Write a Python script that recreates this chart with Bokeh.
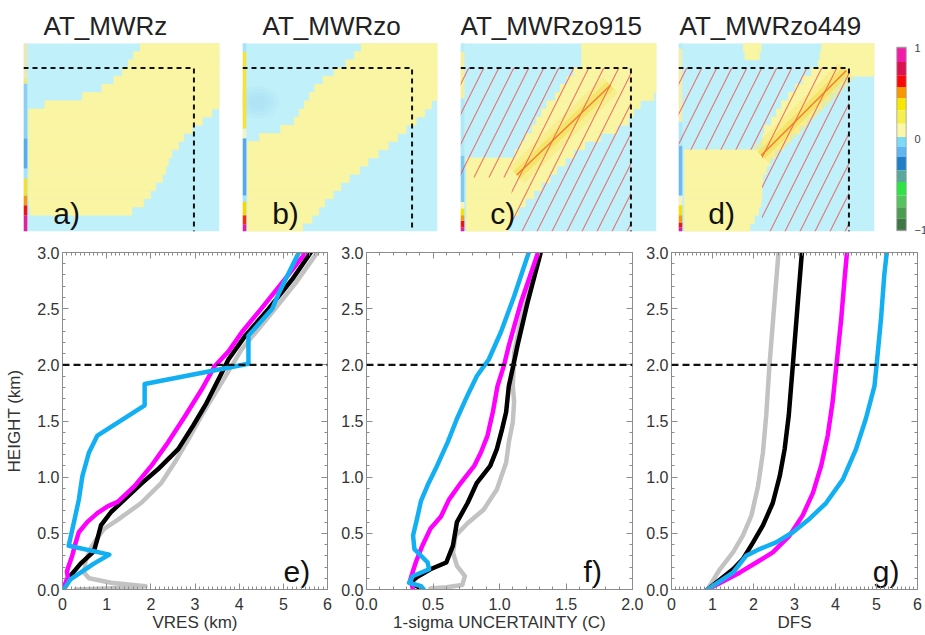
from bokeh.plotting import figure
from bokeh.layouts import row, column
from bokeh.models import (Range1d, LinearAxis, SingleIntervalTicker, FixedTicker,
                          NumeralTickFormatter, Span)
from bokeh.core.properties import value
from bokeh.embed import file_html
from bokeh.resources import INLINE

FONT = "Liberation Sans"
FRAME_GRAY = "#8c8c8c"
TEXT_DARK = "#333333"
KCYAN = "#c0f0fa"
KYELLOW = "#faf5a2"

# ---------------- averaging kernels (a-d): yellow spans per 0.1 km row ----------------
KERNEL_TOP = 2.3          # extent of the kernel matrix (km)
VIEW_TOP = 2.826          # frame also holds the panel title above the matrix
ROW_H = 0.1
DASH_KM = 2.0

a_rows = [0.25, 0.35, 0.45, 0.55, 0.65, 0.75, 0.85, 0.95, 1.05, 1.15, 1.25, 1.35, 1.45,
          1.55, 1.65, 1.75, 1.85, 1.95, 2.05, 2.15, 2.25]
a_left = [0.08, 0.07, 0.06, 0.06, 0.06, 0.06, 0.06, 0.06, 0.06, 0.06, 0.06, 0.06, 0.06,
          0.25, 0.69, 0.92, 1.06, 1.16, 1.23, 1.29, 1.37]
a_right = [1.27, 1.41, 1.49, 1.55, 1.63, 1.67, 1.70, 1.74, 1.82, 1.88, 1.98, 2.10, 2.21,
           2.30, 2.30, 2.30, 2.30, 2.30, 2.30, 2.30, 2.30]

b_rows = [0.05, 0.15, 0.25, 0.35, 0.45, 0.55, 0.65, 0.75, 0.85, 0.95, 1.05, 1.15, 1.25,
          1.35, 1.45, 1.55, 1.65, 1.75, 1.85, 1.95, 2.05, 2.15, 2.25]
b_left = [0.06, 0.06, 0.06, 0.06, 0.06, 0.06, 0.06, 0.06, 0.06, 0.06, 0.06, 0.20, 0.45,
          0.61, 0.67, 0.73, 0.79, 0.85, 0.95, 1.08, 1.22, 1.32, 1.40]
b_right = [0.71, 0.82, 0.90, 0.97, 1.07, 1.16, 1.26, 1.38, 1.48, 1.60, 1.72, 1.83, 1.93,
           2.05, 2.15, 2.23, 2.30, 2.30, 2.30, 2.30, 2.30, 2.30, 2.30]

c_rows = [0.05, 0.15, 0.25, 0.35, 0.45, 0.55, 0.65, 0.75, 0.85, 0.95, 1.05, 1.15, 1.25,
          1.35, 1.45, 1.55, 1.65, 1.75, 1.85, 1.95, 2.05, 2.15, 2.25]
c_left = [0.07, 0.07, 0.07, 0.07, 0.07, 0.07, 0.07, 0.07, 0.07, 0.64, 0.70, 0.76, 0.84,
          0.89, 0.95, 1.01, 1.11, 1.17, 1.25, 1.33, 1.42, 1.42, 1.42]
c_right = [0.56, 0.60, 0.68, 0.76, 0.86, 0.95, 1.05, 1.13, 1.23, 1.33, 1.46, 1.64, 1.84,
           1.97, 2.03, 2.11, 2.27, 2.30, 2.30, 2.30, 2.30, 2.30, 2.30]

d_rows = [0.05, 0.15, 0.25, 0.35, 0.45, 0.55, 0.65, 0.75, 0.85, 0.95, 1.05, 1.15, 1.25,
          1.35, 1.45, 1.55, 1.65, 1.75, 1.85, 1.95, 2.05, 2.15, 2.15, 2.25, 2.25]
d_left = [0.07, 0.07, 0.07, 0.07, 0.07, 0.07, 0.07, 0.07, 0.07, 0.07, 0.99, 0.99, 1.01,
          1.09, 1.15, 1.21, 1.29, 1.37, 1.46, 1.56, 1.64, 0.78, 1.66, 0.76, 1.68]
d_right = [0.84, 0.89, 0.94, 0.97, 0.98, 0.98, 0.99, 1.03, 1.07, 1.13, 1.23, 1.31, 1.42,
           1.50, 1.58, 1.68, 1.76, 1.83, 1.91, 2.30, 2.30, 0.95, 2.30, 0.97, 2.30]

# first-column strip of each kernel (edges in km, bottom to top)
a_strip_edges = [0.0, 0.20, 0.32, 0.44, 0.65, 0.77, 1.14, 1.81, 1.87, 2.3]
a_strip_colors = ["#e0209c", "#ec1414", "#f59a10", "#f5e030", "#a8e2f6",
                  "#58acee", "#8ccff2", "#f3e870", "#ece8b4"]
b_strip_edges = [0.0, 0.09, 0.20, 0.36, 0.44, 1.14, 1.26, 2.20, 2.3]
b_strip_colors = ["#e0209c", "#ee3010", "#f6d800", "#a8e2f6", "#5aa6ee",
                  "#f4f2c8", "#f5e23a", "#a8e2f6"]
c_strip_edges = [0.0, 0.05, 0.13, 0.20, 0.28, 0.36, 0.93, 1.63, 2.20, 2.3]
c_strip_colors = ["#e0209c", "#ec1414", "#f59a10", "#f5e000", "#f6f2c0",
                  "#80caf2", "#b0e8f8", "#f6efa0", "#b8ecf8"]
d_strip_edges = [0.0, 0.05, 0.11, 0.20, 0.32, 0.44, 1.05, 1.34, 2.24, 2.3]
d_strip_colors = ["#e0209c", "#ec1414", "#f59a10", "#f5e000", "#f6f2c0",
                  "#6cbaf0", "#b0e8f8", "#f2eeb0", "#b8ecf8"]

# diagonal ridge of the kernels with extra observations
c_ridge_u = [0.66, 1.76]
c_ridge_v = [0.69, 1.79]
d_ridge_u = [0.97, 1.97]
d_ridge_v = [0.93, 1.97]

# hatched (low-information) regions
c_hatch_u = [0.60, 2.0, 2.0, 0.0, 0.0, 0.60]
c_hatch_v = [0.0, 0.0, 2.0, 2.0, 0.66, 0.66]
d_hatch_u = [0.98, 2.0, 2.0, 0.0, 0.0, 0.98]
d_hatch_v = [0.0, 0.0, 2.0, 2.0, 1.0, 1.0]

# colour bar levels (top to bottom = 1 to -1)
cb_edges = [1.0, 0.842, 0.697, 0.569, 0.442, 0.314, 0.168, 0.021, -0.088, -0.198,
            -0.343, -0.471, -0.617, -0.745, -0.872, -1.0]
cb_colors = ["#f21ba8", "#dc0f50", "#f80808", "#f89800", "#f8e800", "#f6ef50", "#fbf7a8",
             "#7cdaf8", "#5fb6f2", "#1f7ec8", "#5aa89c", "#2ee444", "#56c45c", "#4c9c50",
             "#3e7646"]
CB_VIEW = (-1.011, 1.514)   # bar sits in the lower part of a frame as tall as the kernels

# ---------------- profiles (e-g) ----------------
vres_gray_x = [5.77, 5.28, 4.67, 4.06, 3.60, 3.15, 2.84, 2.54, 2.24, 1.78, 1.25, 0.94, 0.79,
               0.64, 0.52, 0.49, 0.60, 1.10, 1.88, 1.00, 0.30]
vres_gray_z = [3.00, 2.73, 2.43, 2.14, 1.84, 1.55, 1.33, 1.13, 0.95, 0.77, 0.62, 0.54, 0.46,
               0.37, 0.25, 0.15, 0.10, 0.06, 0.03, 0.01, 0.00]
vres_black_x = [5.62, 5.20, 4.67, 4.14, 3.76, 3.53, 3.26, 2.96, 2.62, 2.16, 1.78, 1.40, 1.10,
                0.87, 0.79, 0.71, 0.41, 0.11, 0.03]
vres_black_z = [3.00, 2.76, 2.50, 2.26, 2.05, 1.87, 1.66, 1.46, 1.25, 1.07, 0.94, 0.80, 0.69,
                0.57, 0.45, 0.34, 0.23, 0.09, 0.00]
vres_magenta_x = [5.51, 5.05, 4.52, 4.06, 3.76, 3.45, 3.15, 2.77, 2.39, 2.01, 1.63, 1.25, 1.02,
                  0.79, 0.56, 0.37, 0.30, 0.22, 0.14, 0.10, 0.12, 0.06, 0.02]
vres_magenta_z = [3.00, 2.77, 2.51, 2.29, 2.12, 1.99, 1.78, 1.54, 1.31, 1.10, 0.92, 0.78, 0.74,
                  0.68, 0.60, 0.51, 0.42, 0.30, 0.21, 0.16, 0.11, 0.05, 0.00]
vres_cyan_x = [5.35, 4.90, 4.75, 4.21, 4.21, 1.86, 1.86, 0.79, 0.60, 0.45, 0.37, 0.26, 0.14,
               1.06, 0.71, 0.18, 0.03]
vres_cyan_z = [3.00, 2.64, 2.50, 2.26, 2.01, 1.83, 1.64, 1.37, 1.22, 1.01, 0.80, 0.60, 0.39,
               0.31, 0.23, 0.09, 0.00]

unc_gray_x = [1.29, 1.19, 1.11, 1.10, 1.11, 1.10, 1.07, 1.05, 0.98, 0.88, 0.76, 0.67, 0.65,
              0.68, 0.74, 0.72, 0.60, 0.48]
unc_gray_z = [3.00, 2.55, 2.11, 1.81, 1.67, 1.49, 1.31, 1.13, 0.89, 0.71, 0.59, 0.48, 0.33,
              0.21, 0.12, 0.04, 0.02, 0.01]
unc_black_x = [1.31, 1.21, 1.135, 1.105, 1.07, 1.05, 1.02, 0.98, 0.93, 0.83, 0.76, 0.68, 0.65,
               0.60, 0.48, 0.38, 0.33, 0.41]
unc_black_z = [3.00, 2.55, 2.17, 2.00, 1.81, 1.58, 1.43, 1.25, 1.10, 0.95, 0.77, 0.60, 0.39,
               0.24, 0.18, 0.11, 0.06, 0.01]
unc_magenta_x = [1.29, 1.16, 1.07, 1.035, 0.985, 0.95, 0.91, 0.86, 0.81, 0.71, 0.62, 0.56, 0.48,
                 0.42, 0.37, 0.33, 0.35]
unc_magenta_z = [3.00, 2.55, 2.17, 2.00, 1.81, 1.58, 1.37, 1.22, 1.10, 0.95, 0.80, 0.65, 0.54,
                 0.39, 0.24, 0.09, 0.00]
unc_cyan_x = [1.22, 1.11, 1.01, 0.92, 0.83, 0.76, 0.68, 0.61, 0.53, 0.46, 0.41, 0.38, 0.35,
              0.36, 0.46, 0.47, 0.35, 0.32, 0.41, 0.43]
unc_cyan_z = [3.00, 2.61, 2.29, 2.05, 1.90, 1.73, 1.52, 1.31, 1.10, 0.93, 0.79, 0.63, 0.48,
              0.36, 0.24, 0.18, 0.12, 0.06, 0.03, 0.00]

dfs_gray_x = [0.88, 1.18, 1.50, 1.74, 1.95, 2.11, 2.23, 2.31, 2.39, 2.51, 2.61]
dfs_gray_z = [0.00, 0.18, 0.33, 0.48, 0.66, 0.92, 1.22, 1.55, 2.00, 2.55, 3.00]
dfs_black_x = [0.88, 1.50, 1.74, 1.99, 2.23, 2.47, 2.64, 2.76, 2.86, 2.96, 3.08, 3.18]
dfs_black_z = [0.00, 0.18, 0.27, 0.42, 0.57, 0.77, 1.01, 1.25, 1.55, 2.00, 2.55, 3.00]
dfs_magenta_x = [0.88, 1.66, 2.07, 2.47, 2.88, 3.20, 3.45, 3.65, 3.81, 3.93, 4.03, 4.14, 4.22, 4.28]
dfs_magenta_z = [0.00, 0.15, 0.24, 0.33, 0.48, 0.66, 0.86, 1.10, 1.37, 1.67, 2.02, 2.41, 2.76, 3.00]
dfs_cyan_x = [0.88, 1.50, 1.82, 2.15, 2.55, 2.96, 3.37, 3.77, 4.18, 4.50, 4.74, 4.95, 5.00,
              5.11, 5.19, 5.25]
dfs_cyan_z = [0.00, 0.15, 0.30, 0.36, 0.42, 0.51, 0.63, 0.77, 0.98, 1.25, 1.52, 1.81, 1.99,
              2.41, 2.80, 3.00]

LINE_COLORS = {"gray": "#c2c2c2", "black": "#000000", "magenta": "#ff00ff", "cyan": "#12b0f2"}


def put_text(p, x, y, text, size, color="#111111", align="left"):
    p.text(x=[x], y=[y], text=[text], text_font=value(FONT), text_font_size=value(size),
           text_color=color, text_align=align, text_baseline="middle")


def kernel_panel(title, title_u, tag, rows, lefts, rights, strip_edges, strip_colors,
                 border_left, border_right, frame_w=196, ridge=None, hatch=None, blob=None):
    p = figure(frame_width=frame_w, frame_height=231,
               x_range=Range1d(0, KERNEL_TOP), y_range=Range1d(0, VIEW_TOP),
               x_axis_location=None, y_axis_location=None, toolbar_location=None,
               output_backend="svg",
               min_border_left=border_left, min_border_right=border_right,
               min_border_top=0, min_border_bottom=9)
    p.xgrid.visible = False
    p.ygrid.visible = False
    p.outline_line_color = None

    p.quad(left=0, right=KERNEL_TOP, bottom=0, top=KERNEL_TOP, fill_color=KCYAN, line_color=None)

    if blob is not None:
        bx, by, bw, bh = blob
        for k in (1.0, 0.8, 0.6, 0.4):
            p.ellipse(x=bx, y=by, width=bw * k, height=bh * k, fill_color="#a4dcf4",
                      fill_alpha=0.16, line_color=None)

    p.hbar(y=rows, left=lefts, right=rights, height=ROW_H, fill_color=KYELLOW,
           line_color=KYELLOW, line_width=0.6)

    if ridge is not None:
        ru, rv = ridge
        p.line(ru, rv, line_width=22, line_color="#f7ea80", line_alpha=0.6, line_cap="butt")
        p.line(ru, rv, line_width=10, line_color="#f4de4c", line_alpha=0.6, line_cap="butt")

    p.quad(left=0, right=0.045, bottom=strip_edges[:-1], top=strip_edges[1:],
           fill_color=strip_colors, line_color=None)

    if hatch is not None:
        hu, hv = hatch
        p.patch(hu, hv, fill_color=None, line_color=None, hatch_pattern="/",
                hatch_color="#ee4a4a", hatch_alpha=0.75, hatch_scale=30, hatch_weight=1.1)
    if ridge is not None:
        p.line(ru, rv, line_width=1.4, line_color="#f07034", line_alpha=0.9)

    p.line([0, DASH_KM, DASH_KM], [DASH_KM, DASH_KM, 0], line_color="#111111",
           line_width=2, line_dash="5 4")
    put_text(p, 0.35, 0.22, tag, "30px")
    put_text(p, title_u, 2.515, title, "26px", color="#222222")
    return p


pa = kernel_panel("AT_MWRz", 0.235, "a)", a_rows, a_left, a_right, a_strip_edges, a_strip_colors, 23, 11)
pb = kernel_panel("AT_MWRzo", 0.236, "b)", b_rows, b_left, b_right, b_strip_edges, b_strip_colors, 12, 12,
                  frame_w=195, blob=(0.18, 1.58, 0.5, 0.4))
pc = kernel_panel("AT_MWRzo915", 0.0, "c)", c_rows, c_left, c_right, c_strip_edges, c_strip_colors, 11, 11,
                  ridge=(c_ridge_u, c_ridge_v), hatch=(c_hatch_u, c_hatch_v))
pd = kernel_panel("AT_MWRzo449", 0.012, "d)", d_rows, d_left, d_right, d_strip_edges, d_strip_colors, 11, 10,
                  ridge=(d_ridge_u, d_ridge_v), hatch=(d_hatch_u, d_hatch_v))

# colour bar
pcb = figure(frame_width=10, frame_height=231, x_range=Range1d(0, 1),
             y_range=Range1d(*CB_VIEW),
             x_axis_location=None, y_axis_location="right", toolbar_location=None,
             output_backend="svg", min_border_left=12, min_border_right=19,
             min_border_top=0, min_border_bottom=9)
pcb.xgrid.visible = False
pcb.ygrid.visible = False
pcb.outline_line_color = None
pcb.quad(left=0, right=1, top=cb_edges[:-1], bottom=cb_edges[1:], fill_color=cb_colors,
         line_color=None)
pcb.quad(left=0, right=1, top=cb_edges[0], bottom=cb_edges[-1], fill_color=None,
         line_color="#9a9a9a", line_width=1.5)
cbax = pcb.right[0]
cbax.ticker = FixedTicker(ticks=[-1, 0, 1])
cbax.major_label_overrides = {-1: "\u22121", 0: "0", 1: "1"}
cbax.axis_line_color = None
cbax.major_tick_line_color = None
cbax.minor_tick_line_color = None
cbax.major_label_standoff = 2
cbax.major_label_text_font = FONT
cbax.major_label_text_font_size = "11px"
cbax.major_label_text_color = "#444444"


def profile_panel(xmax, x_interval, x_minor, x_fmt, xlabel, fw, border_left, border_right,
                  series, tag, tag_x, ylabel=None):
    p = figure(frame_width=fw, frame_height=337, x_range=Range1d(0, xmax), y_range=Range1d(0, 3),
               toolbar_location=None, output_backend="svg",
               x_axis_location="below", y_axis_location="left",
               min_border_left=border_left, min_border_right=border_right,
               min_border_top=12, min_border_bottom=46)
    p.xgrid.visible = False
    p.ygrid.visible = False
    p.outline_line_color = FRAME_GRAY
    bottom = p.below[0]
    left = p.left[0]
    xt = SingleIntervalTicker(interval=x_interval, num_minor_ticks=x_minor)
    yt = SingleIntervalTicker(interval=0.5, num_minor_ticks=5)
    bottom.ticker = xt
    left.ticker = yt
    if x_fmt:
        bottom.formatter = NumeralTickFormatter(format=x_fmt)
    left.formatter = NumeralTickFormatter(format="0.0")
    top = LinearAxis(ticker=xt)
    right = LinearAxis(ticker=yt)
    p.add_layout(top, "above")
    p.add_layout(right, "right")
    for ax in (bottom, left, top, right):
        ax.major_tick_in = 6
        ax.major_tick_out = 0
        ax.minor_tick_in = 3
        ax.minor_tick_out = 0
        ax.axis_line_color = FRAME_GRAY
        ax.major_tick_line_color = FRAME_GRAY
        ax.minor_tick_line_color = FRAME_GRAY
        ax.major_label_text_font = FONT
        ax.major_label_text_font_size = "16px"
        ax.major_label_text_color = TEXT_DARK
    # the top and right axes carry tick marks only
    for ax in (top, right):
        ax.major_label_text_font_size = "1px"
        ax.major_label_text_color = None
        ax.major_label_standoff = 0
    bottom.major_label_standoff = 8
    left.major_label_standoff = 3
    bottom.axis_label = xlabel
    if ylabel:
        left.axis_label = ylabel
    for ax in (bottom, left):
        ax.axis_label_text_font = FONT
        ax.axis_label_text_font_size = "17px"
        ax.axis_label_text_font_style = "normal"
        ax.axis_label_text_color = TEXT_DARK
    bottom.axis_label_standoff = 0
    left.axis_label_standoff = 10

    for name, (xs, zs) in series:
        p.line(xs, zs, line_color=LINE_COLORS[name], line_width=4.5, line_join="round",
               line_cap="round")
    p.add_layout(Span(location=DASH_KM, dimension="width", line_color="#111111",
                      line_dash="7 4", line_width=2.2))
    put_text(p, tag_x, 0.16, tag, "30px", align="right")
    return p


pe = profile_panel(6, 1, 10, None, "VRES (km)", 265, 62, 5,
                   [("gray", (vres_gray_x, vres_gray_z)), ("black", (vres_black_x, vres_black_z)),
                    ("magenta", (vres_magenta_x, vres_magenta_z)), ("cyan", (vres_cyan_x, vres_cyan_z))],
                   "e)", 5.61, ylabel="HEIGHT (km)")
pf = profile_panel(2, 0.5, 5, "0.0", "1-sigma UNCERTAINTY (C)", 266, 34, 11,
                   [("gray", (unc_gray_x, unc_gray_z)), ("black", (unc_black_x, unc_black_z)),
                    ("magenta", (unc_magenta_x, unc_magenta_z)), ("cyan", (unc_cyan_x, unc_cyan_z))],
                   "f)", 1.77)
pg = profile_panel(6, 1, 10, None, "DFS", 246, 26, 10,
                   [("gray", (dfs_gray_x, dfs_gray_z)), ("black", (dfs_black_x, dfs_black_z)),
                    ("magenta", (dfs_magenta_x, dfs_magenta_z)), ("cyan", (dfs_cyan_x, dfs_cyan_z))],
                   "g)", 5.56)

layout = column(row(pa, pb, pc, pd, pcb), row(pe, pf, pg))
open("out.html", "w").write(file_html(layout, INLINE))
